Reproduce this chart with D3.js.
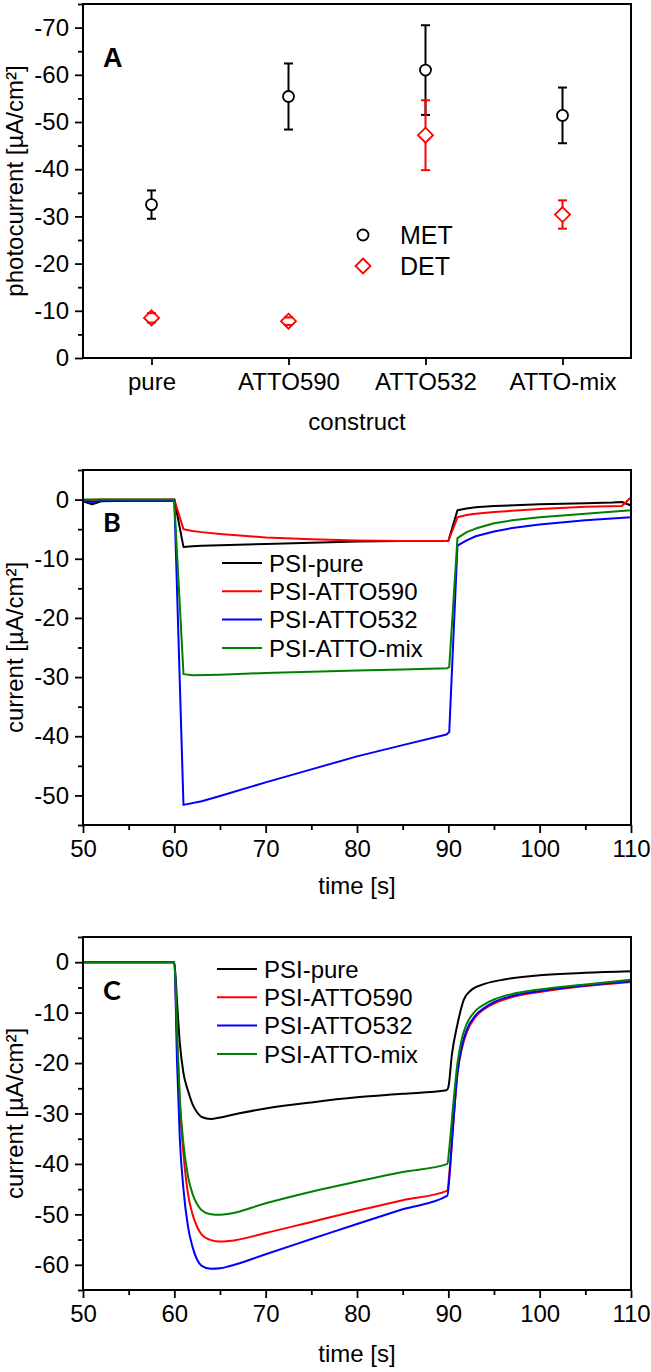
<!DOCTYPE html>
<html><head><meta charset="utf-8">
<script src="https://cdn.jsdelivr.net/npm/d3@7/dist/d3.min.js"></script>
<style>
html,body{margin:0;padding:0;background:#fff;}
text{font-family:"Liberation Sans",Arial,sans-serif;fill:#000;}
</style></head>
<body>
<script>
// ---------- Panel A data ----------
const categories = ["pure", "ATTO590", "ATTO532", "ATTO-mix"];
const metValues = [-32.5, -55.4, -61.0, -51.4];
const metErrors = [3.0, 7.0, 9.5, 5.9];
const detValues = [-8.5, -7.8, -47.2, -30.4];
const detErrors = [1.0, 0.8, 7.4, 3.0];
const yTicksA = [0, -10, -20, -30, -40, -50, -60, -70];
const yMinorA = [-5, -15, -25, -35, -45, -55, -65, -75];

// ---------- Panel B data [time s, current µA/cm²] ----------
const bPure = [[50,-0.3],[51,-0.8],[52,-0.3],[55,-0.2],[59.9,-0.2],[60,0],[61,-8],[62,-7.9],[63,-7.8],[65,-7.7],[70,-7.5],[75,-7.3],[80,-7.1],[85,-7.0],[90,-7.0],[91,-1.8],[92,-1.5],[93,-1.3],[95,-1.1],[100,-0.8],[105,-0.6],[108,-0.5],[109,-0.4],[110,-1.0]];
const bAtto590 = [[50,-0.1],[52,0],[55,0],[60,0],[61,-5.0],[62,-5.3],[63,-5.5],[65,-5.8],[70,-6.4],[75,-6.7],[80,-6.9],[85,-7.0],[90,-7.0],[91,-3.0],[92,-2.6],[93,-2.4],[95,-2.1],[100,-1.6],[105,-1.2],[109,-1.1],[110,0.4]];
const bAtto532 = [[50,-0.2],[51,-0.4],[52,-0.2],[59.9,-0.2],[60,0],[61,-51.6],[63,-51.0],[65,-50.1],[70,-47.8],[75,-45.6],[80,-43.4],[85,-41.5],[89.8,-39.7],[90.1,-39.3],[91,-7.8],[92,-6.9],[93,-6.2],[95,-5.4],[97,-4.8],[100,-4.2],[105,-3.5],[110,-3.0]];
const bMix = [[50,0],[59.9,0],[60,-0.5],[61,-29.5],[62,-29.7],[65,-29.6],[70,-29.3],[75,-29.1],[80,-28.9],[85,-28.7],[89.9,-28.5],[90.1,-28.3],[91,-6.5],[92,-5.5],[93,-4.9],[95,-4.0],[97,-3.5],[100,-3.0],[105,-2.4],[110,-1.8]];

// ---------- Panel C data ----------
const cPure = [[50,0],[60,0],[60.3,-8],[60.6,-16],[61,-22],[61.5,-25.5],[62,-28.2],[62.5,-29.8],[63,-30.7],[64,-31.1],[65,-30.8],[67,-30],[70,-29.0],[75,-27.8],[80,-26.8],[85,-26.1],[89.8,-25.4],[90,-24.8],[90.4,-18.2],[91,-12.3],[91.7,-7.4],[92.4,-5.7],[93.8,-4.4],[95.6,-3.6],[100,-2.6],[105,-2.1],[110,-1.8]];
const cAtto590 = [[50,0],[60,0],[60.3,-15],[60.6,-28],[61,-38],[61.5,-46],[62,-50],[62.5,-52.5],[63,-54],[64,-55.1],[65,-55.4],[66,-55.3],[70,-53.7],[75,-51.5],[80,-49.3],[85,-47.2],[89.9,-45.3],[90.1,-42],[90.5,-33],[91,-22],[91.5,-17],[92,-14],[93,-10.8],[94,-9.2],[95,-8.2],[97,-6.9],[100,-5.9],[105,-4.7],[110,-3.9]];
const cAtto532 = [[50,0],[60,0],[60.3,-20],[60.6,-35],[61,-45],[61.5,-52.5],[62,-56.5],[62.5,-59],[63,-60.2],[64,-60.8],[65,-60.7],[66,-60.3],[70,-57.9],[75,-54.9],[80,-51.9],[85,-49.0],[89.9,-46.3],[90.1,-43],[90.5,-33],[91,-22],[91.5,-16.5],[92,-13.5],[93,-10.5],[94,-9],[95,-7.9],[97,-6.7],[100,-5.7],[105,-4.6],[110,-3.8]];
const cMix = [[50,0],[60,0],[60.3,-14],[60.6,-27],[61,-36],[61.5,-42.5],[62,-46],[62.5,-48],[63,-49.2],[64,-50],[65,-50.1],[66,-49.9],[70,-47.8],[75,-45.5],[80,-43.5],[85,-41.6],[89.9,-40],[90.1,-37],[90.5,-29],[91,-20],[91.5,-15],[92,-12.3],[93,-9.6],[94,-8.3],[95,-7.4],[97,-6.3],[100,-5.4],[105,-4.4],[110,-3.5]];

const seriesNames = ["PSI-pure", "PSI-ATTO590", "PSI-ATTO532", "PSI-ATTO-mix"];
const seriesColors = ["#000000", "#ff0000", "#0000ff", "#008000"];
const xTicksT = [50, 60, 70, 80, 90, 100, 110];
const xMinorT = [55, 65, 75, 85, 95, 105];
const yTicksB = [0, -10, -20, -30, -40, -50];
const yMinorB = [5, -5, -15, -25, -35, -45, -55];
const yTicksC = [0, -10, -20, -30, -40, -50, -60];
const yMinorC = [5, -5, -15, -25, -35, -45, -55, -65];

// ---------- layout ----------
const W = 651, H = 1372;
const L = 83, R = 631;
const FS = 24;
const svg = d3.select("body").append("svg").attr("width", W).attr("height", H);

function styleAxis(g){
  g.select(".domain").remove();
  g.selectAll(".tick line").attr("stroke", "#000").attr("stroke-width", 1.8);
  g.selectAll(".tick text").attr("font-size", FS).attr("fill", "#000")
   .attr("font-family", '"Liberation Sans", Arial, sans-serif');
}

function frame(top, bottom){
  svg.append("rect").attr("x", L).attr("y", top).attr("width", R - L).attr("height", bottom - top)
    .attr("fill", "none").attr("stroke", "#000").attr("stroke-width", 2);
}

function yAxes(y, majors, minors){
  svg.append("g").attr("transform", `translate(${L},0)`)
    .call(d3.axisLeft(y).tickValues(minors).tickSize(5).tickFormat("")).call(styleAxis);
  svg.append("g").attr("transform", `translate(${L},0)`)
    .call(d3.axisLeft(y).tickValues(majors).tickSize(8).tickPadding(6).tickFormat(d => String(d))).call(styleAxis);
}

function yTitle(text, top, bottom){
  svg.append("text").attr("transform", `translate(23,${(top + bottom) / 2}) rotate(-90)`)
    .attr("text-anchor", "middle").attr("font-size", 24).text(text);
}

// ================= Panel A =================
(function(){
  const top = 4, bottom = 358;
  const x = d3.scaleLinear().domain([0.5, 4.5]).range([L, R]);
  const y = d3.scaleLinear().domain([0, -75]).range([bottom, top]);
  frame(top, bottom);
  yAxes(y, yTicksA, yMinorA);
  svg.append("g").attr("transform", `translate(0,${bottom})`)
    .call(d3.axisBottom(x).tickValues([1, 2, 3, 4]).tickSize(7).tickPadding(8).tickFormat(d => categories[d - 1]))
    .call(styleAxis);
  yTitle("photocurrent [µA/cm²]", top, bottom);
  svg.append("text").attr("x", (L + R) / 2).attr("y", 430).attr("text-anchor", "middle")
    .attr("font-size", 24).text("construct");
  svg.append("text").attr("x", 103).attr("y", 67).attr("font-size", 27).attr("font-weight", "bold").text("A");

  const rC = 5.5, rD = 7.5;
  function diamond(cx, cy, r){ return `M${cx},${cy - r}L${cx + r},${cy}L${cx},${cy + r}L${cx - r},${cy}Z`; }
  function drawSeries(vals, errs, color, kind){
    const g = svg.append("g");
    const rr = kind === "circle" ? rC : rD;
    vals.forEach((v, i) => {
      const cx = x(i + 1), cy = y(v);
      if (kind === "circle") g.append("circle").attr("cx", cx).attr("cy", cy).attr("r", rC)
        .attr("fill", "#fff").attr("stroke", color).attr("stroke-width", 1.8);
      else g.append("path").attr("d", diamond(cx, cy, rD)).attr("fill", "#fff").attr("stroke", color).attr("stroke-width", 1.8);
      const yHi = y(v - errs[i]), yLo = y(v + errs[i]);
      if (cy - yHi > rr) g.append("line").attr("x1", cx).attr("x2", cx).attr("y1", cy - rr).attr("y2", yHi).attr("stroke", color).attr("stroke-width", 2);
      if (yLo - cy > rr) g.append("line").attr("x1", cx).attr("x2", cx).attr("y1", cy + rr).attr("y2", yLo).attr("stroke", color).attr("stroke-width", 2);
      [yHi, yLo].forEach(yy => g.append("line").attr("x1", cx - 4.5).attr("x2", cx + 4.5).attr("y1", yy).attr("y2", yy)
        .attr("stroke", color).attr("stroke-width", 2));
    });
  }
  drawSeries(metValues, metErrors, "#000", "circle");
  drawSeries(detValues, detErrors, "#ff0000", "diamond");

  // legend
  svg.append("circle").attr("cx", 363).attr("cy", 235).attr("r", rC).attr("fill", "#fff").attr("stroke", "#000").attr("stroke-width", 1.8);
  svg.append("text").attr("x", 400).attr("y", 235).attr("dy", "0.36em").attr("font-size", 25).text("MET");
  svg.append("path").attr("d", diamond(363, 266, rD)).attr("fill", "#fff").attr("stroke", "#ff0000").attr("stroke-width", 1.8);
  svg.append("text").attr("x", 400).attr("y", 266).attr("dy", "0.36em").attr("font-size", 25).text("DET");
})();

// ================= Time panels =================
function timePanel(top, bottom, yDomain, yMajors, yMinors, series, letter, letterY, legX, legY0, titleY, curve){
  const x = d3.scaleLinear().domain([50, 110]).range([L, R]);
  const y = d3.scaleLinear().domain(yDomain).range([bottom, top]);
  const line = d3.line().x(d => x(d[0])).y(d => y(d[1])).curve(curve);
  series.forEach((s, i) => {
    svg.append("path").datum(s).attr("d", line).attr("fill", "none")
      .attr("stroke", seriesColors[i]).attr("stroke-width", 2).attr("stroke-linejoin", "round");
  });
  frame(top, bottom);
  yAxes(y, yMajors, yMinors);
  svg.append("g").attr("transform", `translate(0,${bottom})`)
    .call(d3.axisBottom(x).tickValues(xMinorT).tickSize(5).tickFormat("")).call(styleAxis);
  svg.append("g").attr("transform", `translate(0,${bottom})`)
    .call(d3.axisBottom(x).tickValues(xTicksT).tickSize(8).tickPadding(7).tickFormat(d => String(d))).call(styleAxis);
  yTitle("current [µA/cm²]", top, bottom);
  svg.append("text").attr("x", (L + R) / 2).attr("y", titleY).attr("text-anchor", "middle").attr("font-size", 24).text("time [s]");
  svg.append("text").attr("x", 103).attr("y", letterY).attr("font-size", 27).attr("font-weight", "bold")
    .style("font-family", 'Lato, "Open Sans", sans-serif').text(letter);
  seriesNames.forEach((n, i) => {
    const yy = legY0 + i * 28.3;
    svg.append("line").attr("x1", legX).attr("x2", legX + 40).attr("y1", yy).attr("y2", yy)
      .attr("stroke", seriesColors[i]).attr("stroke-width", 2);
    svg.append("text").attr("x", legX + 47).attr("y", yy).attr("dy", "0.36em").attr("font-size", 24).text(n);
  });
}

timePanel(470, 825, [-55, 5], yTicksB, yMinorB, [bPure, bAtto590, bAtto532, bMix], "B", 532, 222, 563, 894, d3.curveLinear);
timePanel(937, 1290, [-65, 5], yTicksC, yMinorC, [cPure, cAtto590, cAtto532, cMix], "C", 1000, 217, 969, 1362, d3.curveMonotoneX);
</script>
</body></html>
